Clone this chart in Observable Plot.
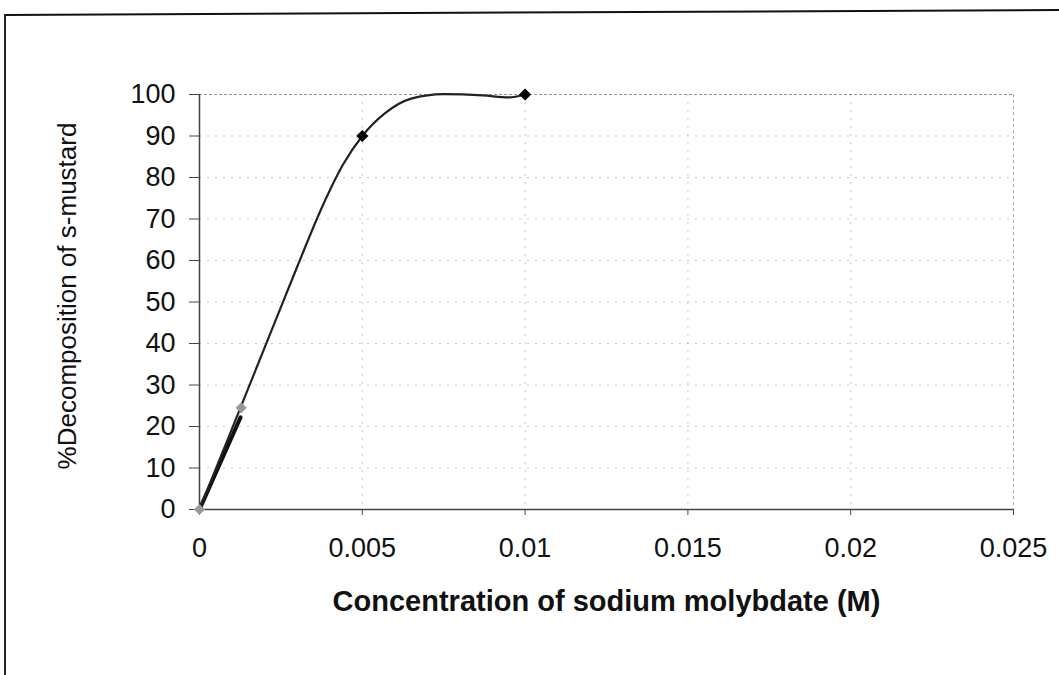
<!DOCTYPE html>
<html>
<head>
<meta charset="utf-8">
<script src="https://cdn.jsdelivr.net/npm/d3@7"></script>
<script src="https://cdn.jsdelivr.net/npm/@observablehq/plot@0.6"></script>
<style>
  html, body { margin: 0; padding: 0; background: #fff; }
  #wrap { position: relative; width: 1059px; height: 675px; overflow: hidden; }
  #topline { position: absolute; left: 4px; top: 14px; width: 1070px; height: 0;
             border-top: 2px solid #111; transform: rotate(-0.27deg); transform-origin: 0 0; }
  #leftline { position: absolute; left: 4px; top: 14px; width: 0; height: 700px;
              border-left: 2px solid #222; }
  #chart { position: absolute; left: 0; top: 0; }
</style>
</head>
<body>
<div id="wrap"><div id="topline"></div><div id="leftline"></div><div id="chart"></div></div>
<script>
// Smoothed main curve
const curveX = [0, 0.001, 0.002, 0.003, 0.0038, 0.0044, 0.005, 0.0057, 0.0065, 0.0075, 0.0087, 0.0095, 0.01];
const curveY = [0, 19.5, 39, 58.5, 73.5, 83, 90, 95.5, 99, 100.1, 99.8, 99.3, 100];
// Black diamond markers
const markX = [0.005, 0.01];
const markY = [90, 100];
// Short thick segment near origin
const segX = [0, 0.00126];
const segY = [0, 22.2];
// Grey diamond markers
const greyX = [0, 0.00128];
const greyY = [0, 24.5];
// Ticks
const xTicks = [0, 0.005, 0.01, 0.015, 0.02, 0.025];
const yTicks = [0, 10, 20, 30, 40, 50, 60, 70, 80, 90, 100];
const xTitle = "Concentration of sodium molybdate (M)";
const yTitle = "%Decomposition of s-mustard";

const curve = curveX.map((x, i) => ({x, y: curveY[i]}));
const marks = markX.map((x, i) => ({x, y: markY[i]}));
const seg = segX.map((x, i) => ({x, y: segY[i]}));
const grey = greyX.map((x, i) => ({x, y: greyY[i]}));

const font = "'Liberation Sans', Arial, sans-serif";

const chart = Plot.plot({
  width: 1059,
  height: 675,
  marginLeft: 199,
  marginRight: 46,
  marginTop: 94,
  marginBottom: 166,
  style: {fontFamily: font, background: "transparent", color: "#111"},
  x: {domain: [0, 0.025]},
  y: {domain: [0, 100]},
  marks: [
    Plot.gridY(yTicks.filter(d => d > 0 && d < 100), {stroke: "#999", strokeOpacity: 0.55, strokeDasharray: "2,6"}),
    Plot.gridX(xTicks.filter(d => d > 0 && d < 0.025), {stroke: "#999", strokeOpacity: 0.55, strokeDasharray: "2,6"}),
    Plot.ruleY([100], {stroke: "#888", strokeDasharray: "3,2", strokeOpacity: 0.9}),
    Plot.ruleX([0.025], {stroke: "#999", strokeDasharray: "3,3", strokeOpacity: 0.8}),
    Plot.axisY({ticks: yTicks, tickSize: 10, tickPadding: 14, fontSize: 27, label: null, stroke: "#444"}),
    Plot.axisX({ticks: xTicks, tickSize: 6, tickPadding: 22, fontSize: 27, label: null, stroke: "#444",
                tickFormat: d => String(d)}),
    Plot.ruleX([0], {stroke: "#444", strokeWidth: 1.5}),
    Plot.ruleY([0], {stroke: "#444", strokeWidth: 1.5}),
    Plot.line(seg, {x: "x", y: "y", stroke: "#111", strokeWidth: 4}),
    Plot.line(curve, {x: "x", y: "y", curve: "monotone-x", stroke: "#222", strokeWidth: 2.2}),
    Plot.dot(grey, {x: "x", y: "y", symbol: "diamond2", r: 5, fill: "#999", stroke: "none"}),
    Plot.dot(marks, {x: "x", y: "y", symbol: "diamond2", r: 5.5, fill: "#000", stroke: "none"}),
    Plot.text([xTitle], {frameAnchor: "bottom", dy: 101, fontSize: 29, fontWeight: "bold", fill: "#111", fontFamily: font}),
    Plot.text([yTitle], {frameAnchor: "left", textAnchor: "middle", dx: -132, dy: -6, rotate: -90, fontSize: 26, fill: "#111", fontFamily: font})
  ]
});
document.getElementById("chart").appendChild(chart);
</script>
</body>
</html>
